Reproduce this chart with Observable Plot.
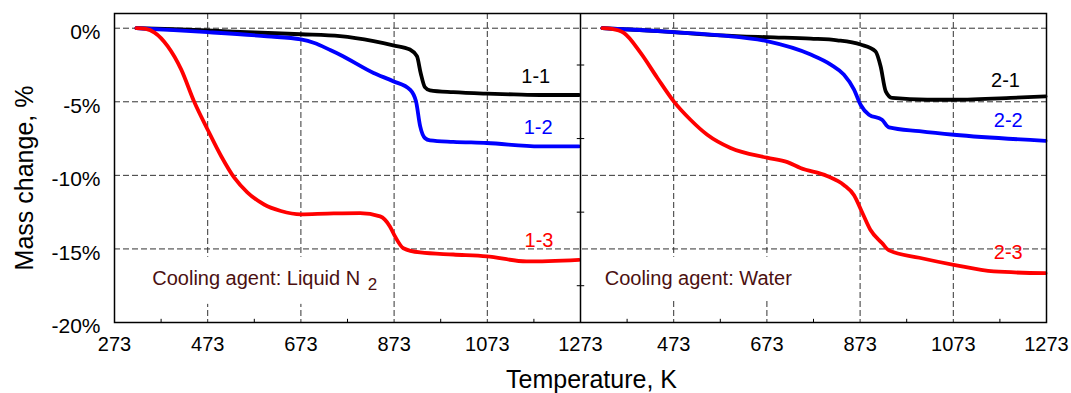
<!DOCTYPE html>
<html>
<head>
<meta charset="utf-8">
<script src="https://cdn.jsdelivr.net/npm/d3@7"></script>
<script src="https://cdn.jsdelivr.net/npm/@observablehq/plot@0.6"></script>
<style>
  body { margin: 0; background: #fff; }
  #chart svg { display: block; font-family: "Liberation Sans", Arial, sans-serif; }
</style>
</head>
<body>
<div id="chart"></div>
<script>
// ---- data (temperature in K, mass change in %) ----
const s11T = [320, 400, 473, 573, 673, 757, 829, 871, 907, 922, 930, 939, 950, 1000, 1072, 1130, 1186, 1270];
const s11M = [0, -0.07, -0.15, -0.29, -0.41, -0.54, -0.88, -1.16, -1.45, -1.9, -3.04, -4.0, -4.22, -4.35, -4.45, -4.5, -4.54, -4.54];

const s12T = [320, 400, 473, 600, 673, 702, 737, 757, 829, 871, 907, 920, 929, 939, 950, 1000, 1072, 1186, 1270];
const s12M = [0, -0.13, -0.27, -0.55, -0.76, -1.0, -1.5, -1.8, -3.04, -3.6, -4.17, -4.97, -6.67, -7.46, -7.62, -7.72, -7.8, -8.03, -8.03];

const s13T = [320, 340, 359, 387, 416, 444, 473, 502, 530, 558, 594, 630, 673, 730, 800, 843, 864, 875, 893, 929, 1000, 1072, 1157, 1270];
const s13M = [0, -0.05, -0.3, -1.22, -2.8, -5.0, -6.9, -8.7, -10.16, -11.15, -11.98, -12.42, -12.65, -12.6, -12.56, -12.79, -13.47, -14.15, -14.95, -15.24, -15.38, -15.5, -15.85, -15.74];

const s21T = [320, 400, 473, 573, 673, 767, 824, 874, 906, 917, 928, 942, 1017, 1074, 1196, 1271];
const s21M = [0, -0.12, -0.27, -0.48, -0.61, -0.71, -0.82, -1.11, -1.57, -2.58, -4.29, -4.74, -4.86, -4.86, -4.74, -4.63];

const s22T = [320, 400, 473, 573, 673, 767, 810, 838, 860, 874, 892, 920, 935, 1000, 1074, 1271];
const s22M = [0, -0.12, -0.27, -0.48, -0.88, -1.79, -2.47, -3.15, -4.17, -5.2, -5.88, -6.22, -6.74, -7.0, -7.24, -7.65];

const s23T = [320, 340, 366, 402, 438, 473, 509, 545, 595, 673, 717, 745, 802, 838, 860, 878, 895, 920, 935, 1000, 1074, 1160, 1271];
const s23M = [0, -0.05, -0.32, -1.68, -3.38, -4.97, -6.22, -7.24, -8.14, -8.8, -9.1, -9.5, -10.04, -10.65, -11.35, -12.56, -13.7, -14.6, -15.1, -15.6, -16.08, -16.53, -16.65];

const seriesNames  = ["1-1", "1-2", "1-3", "2-1", "2-2", "2-3"];
const seriesPanel  = [1, 1, 1, 2, 2, 2];
const seriesColors = ["#000000", "#0000ff", "#ff0000", "#000000", "#0000ff", "#ff0000"];
const seriesT = [s11T, s12T, s13T, s21T, s22T, s23T];
const seriesM = [s11M, s12M, s13M, s21M, s22M, s23M];

// curve labels (position in panel temperature / mass change)
const labelT = [1177, 1182, 1184, 1185, 1191, 1191];
const labelM = [-3.3, -6.74, -14.45, -3.53, -6.29, -15.24];

// cooling-agent notes
const coolText  = ["Cooling agent: Liquid N", "Cooling agent: Water"];
const coolPanel = [1, 2];
const coolT = [354, 325];
const coolM = [-17.0, -17.0];
const coolSub = "2";

// axes
const xTicks = [273, 473, 673, 873, 1073, 1273];
const xMinor = [373, 573, 773, 973, 1173];
const yTicks = [0, -5, -10, -15, -20];
const yGrid  = [0, -5, -10, -15];
const yMinor = [-2.5, -7.5, -12.5, -17.5];
const panelSpan = 1000; // each panel covers 273..1273 K

// ---- derived tables ----
const off = p => (p - 1) * panelSpan;
const rows = seriesNames.flatMap((name, i) =>
  seriesT[i].map((t, j) => ({series: name, x: t + off(seriesPanel[i]), m: seriesM[i][j], color: seriesColors[i]})));
const labels = seriesNames.map((name, i) => ({name, x: labelT[i] + off(seriesPanel[i]), m: labelM[i], color: seriesColors[i]}));
const notes = coolText.map((t, i) => ({t, x: coolT[i] + off(coolPanel[i]), m: coolM[i]}));
const allXTicks = [...xTicks, ...xTicks.filter(t => t > 273).map(t => t + panelSpan)];
const inner = xTicks.filter(t => t > 273 && t < 1273);
const gridX = [...inner, ...inner.map(t => t + panelSpan)];
const minorX = [...xMinor, ...xMinor.map(t => t + panelSpan)];
const boundary = 273 + panelSpan;

const chart = Plot.plot({
  width: 1071,
  height: 393,
  marginLeft: 114,
  marginRight: 25,
  marginTop: 13,
  marginBottom: 71,
  style: {fontFamily: "Liberation Sans, Arial, sans-serif", color: "#000", background: "#fff"},
  x: {domain: [273, 273 + 2 * panelSpan]},
  y: {domain: [-20, 1]},
  marks: [
    Plot.ruleX(gridX, {stroke: "#333", strokeWidth: 1, strokeDasharray: "6,3"}),
    Plot.ruleY(yGrid, {stroke: "#333", strokeWidth: 1, strokeDasharray: "6,3"}),
    Plot.text(notes, {x: "x", y: "m", text: "t", textAnchor: "start", fontSize: 20, fill: "#4b1010"}),
    Plot.line(rows, {x: "x", y: "m", z: "series", stroke: "color", strokeWidth: 3.8, curve: "monotone-x"}),
    Plot.text(labels, {x: "x", y: "m", text: "name", fill: "color", fontSize: 20}),
    Plot.link(minorX, {x1: d => d, x2: d => d, y1: -20, y2: -19.75, stroke: "#000", strokeWidth: 1}),
    Plot.link(yMinor, {x1: boundary - 8, x2: boundary + 8, y1: d => d, y2: d => d, stroke: "#000", strokeWidth: 1}),
    Plot.ruleX([boundary], {stroke: "#000", strokeWidth: 1.5}),
    Plot.frame({stroke: "#000", strokeWidth: 1.5}),
    Plot.axisX(allXTicks, {tickSize: 0, tickPadding: 14, fontSize: 20, label: null,
      tickFormat: d => String(d > boundary ? d - panelSpan : d)}),
    Plot.axisY(yTicks, {tickSize: 0, tickPadding: 14, fontSize: 21, dy: 4, label: null,
      tickFormat: d => d + "%"}),
    Plot.text(["Temperature, K"], {frameAnchor: "bottom", textAnchor: "middle", lineAnchor: "middle",
      dy: 57, dx: 11, fontSize: 25, fill: "#000"}),
    Plot.text(["Mass change, %"], {frameAnchor: "left", textAnchor: "middle", lineAnchor: "middle",
      rotate: -90, dx: -90, dy: 10, fontSize: 25, fill: "#000"})
  ]
});
document.getElementById("chart").append(chart);

// subscript and white background boxes for the notes
d3.select(chart).selectAll("text").each(function () {
  const el = this;
  if (el.textContent === coolText[0]) {
    el.textContent = coolText[0] + " ";
    d3.select(el).append("tspan").attr("dy", "0.3em").attr("dx", "2").attr("font-size", 17).text(coolSub);
  }
});
d3.select(chart).selectAll("text").each(function () {
  const el = this;
  if (coolText.some(t => el.textContent.startsWith(t))) {
    const b = el.getBBox();
    const r = document.createElementNS("http://www.w3.org/2000/svg", "rect");
    r.setAttribute("x", b.x - 6);
    r.setAttribute("y", b.y - 10);
    r.setAttribute("width", b.width + 12);
    r.setAttribute("height", b.height + 20);
    r.setAttribute("fill", "#fff");
    if (el.getAttribute("transform")) r.setAttribute("transform", el.getAttribute("transform"));
    el.parentNode.insertBefore(r, el);
  }
});
</script>
</body>
</html>
